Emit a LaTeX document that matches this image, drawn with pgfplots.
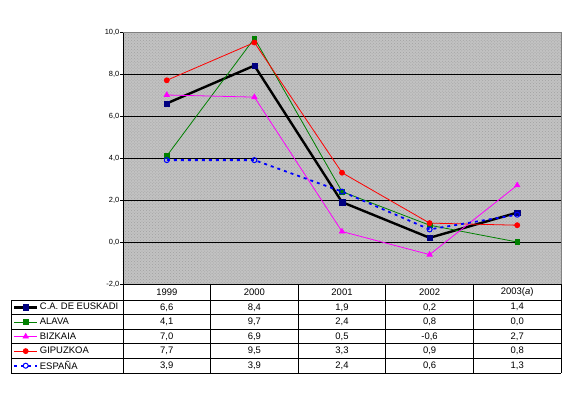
\documentclass[border=0pt]{standalone}
\usepackage{fontspec}
\setmainfont{Liberation Sans}
\usepackage{pgfplots}
\pgfplotsset{compat=1.18}
\usetikzlibrary{patterns}
\definecolor{bggray}{RGB}{194,194,194}
\definecolor{dotgray}{RGB}{160,160,160}
\definecolor{navyb}{RGB}{0,0,128}
\definecolor{greenx}{RGB}{0,128,0}
\definecolor{magx}{RGB}{255,0,255}
\definecolor{redx}{RGB}{255,0,0}
\definecolor{bluex}{RGB}{0,0,255}
\definecolor{framegray}{RGB}{128,128,128}
\newcommand\tabrow[6]{%
  \node at (43.8,#1) {#2};
  \node at (131.4,#1) {#3};
  \node at (219,#1) {#4};
  \node at (306.6,#1) {#5};
  \node at (394.2,#1) {#6};}
\begin{document}
\begin{tikzpicture}[x=1bp,y=1bp]
\path[use as bounding box] (-123,-112) rectangle (444,284);
\begin{axis}[
  at={(0,0)}, anchor=south west,
  scale only axis, width=438bp, height=252bp,
  xmin=-0.5, xmax=4.5, ymin=-2, ymax=10,
  xtick=\empty, ytick={-2,0,2,4,6,8,10},
  ymajorgrids, grid style={black, line width=0.8bp},
  axis x line*=bottom, axis y line*=left,
  axis line style={black, line width=0.8bp, -},
  y tick style={black, line width=0.8bp}, major tick length=2.5bp, tick align=outside,
  yticklabel style={font=\fontsize{7.5}{8}\selectfont, inner sep=1bp},
  /pgf/number format/.cd, use comma, fixed, fixed zerofill, precision=1, assume math mode=true, /pgfplots/.cd,
  axis background/.style={preaction={fill=bggray}, pattern=crosshatch dots, pattern color=dotgray},
  clip=false,
  legend cell align=left,
  legend style={at={(axis description cs:-0.2511,-0.0635)}, anchor=north west,
    draw=none, fill=none, inner sep=0pt, outer sep=0pt, row sep=0pt, column sep=0pt,
    font=\fontsize{9.5}{10}\selectfont,
    nodes={inner xsep=1.5bp, inner ysep=0pt, minimum height=14.6bp}},
  legend image code/.code={\draw[mark repeat=2, mark phase=2] plot coordinates {(0bp,0bp)(11.5bp,0bp)(23bp,0bp)};},
]
\draw[framegray, line width=0.8bp] (rel axis cs:0,1) -- (rel axis cs:1,1) -- (rel axis cs:1,0);
\addplot[black, line width=2.4bp, mark=square*, mark size=2.7bp, mark options={solid, draw=navyb, fill=navyb, line width=0.4bp}]
  coordinates {(0,6.6) (1,8.4) (2,1.9) (3,0.2) (4,1.4)};
\addlegendentry{C.A. DE EUSKADI}
\addplot[greenx, line width=0.8bp, mark=square*, mark size=2.3bp, mark options={solid, draw=greenx, fill=greenx}]
  coordinates {(0,4.1) (1,9.7) (2,2.4) (3,0.8) (4,0.0)};
\addlegendentry{ALAVA}
\addplot[magx, line width=0.8bp, mark=triangle*, mark size=3bp, mark options={solid, draw=magx, fill=magx}]
  coordinates {(0,7.0) (1,6.9) (2,0.5) (3,-0.6) (4,2.7)};
\addlegendentry{BIZKAIA}
\addplot[redx, line width=0.8bp, mark=*, mark size=2.5bp, mark options={solid, draw=redx, fill=redx}]
  coordinates {(0,7.7) (1,9.5) (2,3.3) (3,0.9) (4,0.8)};
\addlegendentry{GIPUZKOA}
\addplot[bluex, line width=1.8bp, dash pattern=on 3bp off 4bp, mark=o, mark size=2.5bp, mark options={solid, draw=bluex, line width=1bp}]
  coordinates {(0,3.9) (1,3.9) (2,2.4) (3,0.6) (4,1.3)};
\addlegendentry{ESPAÑA}
\end{axis}
% data table below the chart
\foreach \y in {-16,-30.6,-45.2,-59.8,-74.4,-89}
  \draw[black, line width=0.8bp] (-112,\y) -- (438,\y);
\draw[black, line width=0.8bp] (-112,-16) -- (-112,-89);
\foreach \x in {0,87.6,175.2,262.8,350.4,438}
  \draw[black, line width=0.8bp] (\x,0) -- (\x,-89);
\begin{scope}[every node/.style={font=\fontsize{9.5}{10}\selectfont, inner sep=0pt}]
\tabrow{-8}{1999}{2000}{2001}{2002}{2003(\textit{a})}
\tabrow{-23.3}{6,6}{8,4}{1,9}{0,2}{1,4}
\tabrow{-37.9}{4,1}{9,7}{2,4}{0,8}{0,0}
\tabrow{-52.5}{7,0}{6,9}{0,5}{-0,6}{2,7}
\tabrow{-67.1}{7,7}{9,5}{3,3}{0,9}{0,8}
\tabrow{-81.7}{3,9}{3,9}{2,4}{0,6}{1,3}
\end{scope}
\end{tikzpicture}
\end{document}
